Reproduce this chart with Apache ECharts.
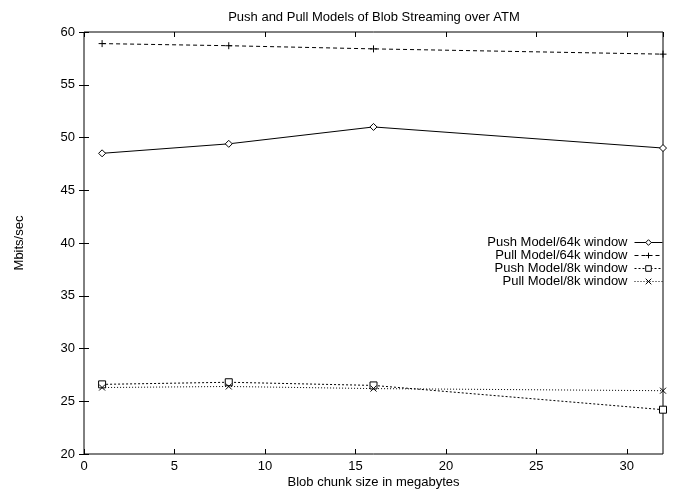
<!DOCTYPE html>
<html>
<head>
<meta charset="utf-8">
<script src="https://cdn.jsdelivr.net/npm/echarts@6/dist/echarts.min.js"></script>
<style>
    html, body { margin: 0; padding: 0; background: #fff; }
    #chart { width: 673px; height: 489px; }
</style>
</head>
<body>
<div id="chart"></div>
<script>
// chunk sizes (MB)
var chunkSizes = [1, 8, 16, 32];
var push64k = [48.5, 49.4, 51.0, 49.0];
var pull64k = [58.9, 58.7, 58.4, 57.9];
var push8k = [26.6, 26.8, 26.5, 24.2];
var pull8k = [26.3, 26.4, 26.2, 26.0];
var seriesNames = ['Push Model/64k window', 'Pull Model/64k window', 'Push Model/8k window', 'Pull Model/8k window'];

var font = 'Liberation Sans, Arial, sans-serif';
var plusPath = 'path://M0,5L10,5M5,0L5,10';
var crossPath = 'path://M0,0L10,10M10,0L0,10';

function pairs(ys) {
    return chunkSizes.map(function (x, i) { return [x, ys[i]]; });
}

function makeSeries(name, ys, symbol, size, dash, filled) {
    return {
        name: name,
        type: 'line',
        data: pairs(ys),
        symbol: symbol,
        symbolSize: size,
        showAllSymbol: true,
        lineStyle: { color: '#000', width: 1, type: dash },
        itemStyle: { color: filled ? '#fff' : 'none', borderColor: '#000', borderWidth: 1 },
        emphasis: { disabled: true },
        z: 3,
    };
}

var myChart = echarts.init(document.getElementById('chart'));
var option = {
    animation: false,
    textStyle: { fontFamily: font },
    title: {
        text: 'Push and Pull Models of Blob Streaming over ATM',
        left: 374,
        textAlign: 'center',
        top: 11,
        padding: 0,
        textStyle: { fontFamily: font, fontSize: 13, fontWeight: 'normal', color: '#000' },
    },
    legend: {
        orient: 'vertical',
        right: 10,
        top: 236,
        padding: 0,
        align: 'right',
        itemWidth: 28,
        itemHeight: 7,
        itemGap: 0,
        lineStyle: { width: 1 },
        itemStyle: { borderWidth: 1 },
        textStyle: { fontFamily: font, fontSize: 13, lineHeight: 13, color: '#000', padding: [0, 2, 0, 0] },
        data: seriesNames,
    },
    grid: {
        left: 84,
        right: 10,
        top: 32,
        bottom: 35,
        outerBoundsMode: 'none',
        show: true,
        borderColor: '#000',
        borderWidth: 1,
    },
    xAxis: [
        {
            type: 'value',
            min: 0,
            max: 32,
            interval: 5,
            name: 'Blob chunk size in megabytes',
            nameLocation: 'middle',
            nameGap: 22,
            nameMoveOverlap: false,
            nameTextStyle: { fontFamily: font, fontSize: 13, lineHeight: 13, color: '#000' },
            axisLine: { show: false },
            axisTick: { inside: true, length: 5, lineStyle: { color: '#000' } },
            axisLabel: { fontFamily: font, fontSize: 13, color: '#000', margin: 6, showMaxLabel: false },
            splitLine: { show: false },
        },
        {
            type: 'value',
            position: 'top',
            min: 0,
            max: 32,
            interval: 5,
            axisLine: { show: false },
            axisTick: { inside: true, length: 5, lineStyle: { color: '#000' } },
            axisLabel: { show: false },
            splitLine: { show: false },
        },
    ],
    yAxis: [
        {
            type: 'value',
            min: 20,
            max: 60,
            interval: 5,
            name: 'Mbits/sec',
            nameLocation: 'middle',
            nameRotate: 90,
            nameGap: 58,
            nameMoveOverlap: false,
            nameTextStyle: { fontFamily: font, fontSize: 13, color: '#000' },
            axisLine: { show: false },
            axisTick: { inside: true, length: 5, lineStyle: { color: '#000' } },
            axisLabel: { fontFamily: font, fontSize: 13, color: '#000', margin: 9 },
            splitLine: { show: false },
        },
        {
            type: 'value',
            position: 'right',
            min: 20,
            max: 60,
            interval: 5,
            axisLine: { show: false },
            axisTick: { inside: true, length: 5, lineStyle: { color: '#000' } },
            axisLabel: { show: false },
            splitLine: { show: false },
        },
    ],
    series: [
        makeSeries(seriesNames[0], push64k, 'diamond', 7, 'solid', true),
        makeSeries(seriesNames[1], pull64k, plusPath, 7, [4, 3], false),
        makeSeries(seriesNames[2], push8k, 'rect', 7, [2, 2], true),
        makeSeries(seriesNames[3], pull8k, crossPath, 6, [1, 2], false),
    ],
};
myChart.setOption(option);
</script>
</body>
</html>
